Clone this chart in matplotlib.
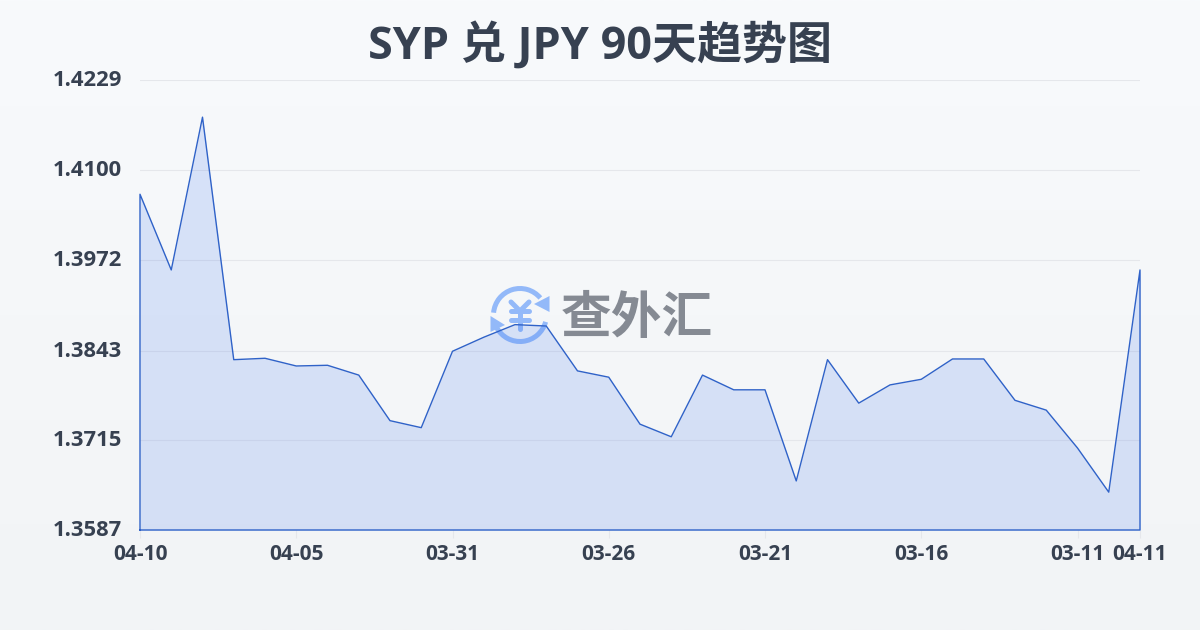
import matplotlib

matplotlib.use("Agg")

import matplotlib.pyplot as plt
import numpy as np
from matplotlib.patches import Arc, Polygon
from matplotlib.transforms import ScaledTranslation

plt.rcParams["font.family"] = ["Open Sans", "Noto Sans CJK SC", "DejaVu Sans"]

TITLE = "SYP 兑 JPY 90天趋势图"
RATES = [
    1.4066, 1.3958, 1.4176, 1.3830, 1.3832, 1.3821, 1.3822, 1.3808, 1.3743,
    1.3733, 1.3842, 1.3862, 1.3880, 1.3878, 1.3814, 1.3805, 1.3738, 1.3720,
    1.3808, 1.3787, 1.3787, 1.3657, 1.3830, 1.3768, 1.3794, 1.3802, 1.3831,
    1.3831, 1.3772, 1.3758, 1.3704, 1.3641, 1.3958,
]
X_TICK_POS = [0, 5, 10, 15, 20, 25, 30, 32]
X_TICK_LABELS = ["04-10", "04-05", "03-31", "03-26", "03-21", "03-16", "03-11", "04-11"]
Y_TICKS = [1.3587, 1.3715, 1.3843, 1.3972, 1.4100, 1.4229]
Y_TICK_LABELS = ["1.3587", "1.3715", "1.3843", "1.3972", "1.4100", "1.4229"]

W, H = 1200, 630
TEXT_COLOR = "#374151"
LINE_COLOR = "#2f62c8"
GRID_COLOR = "#e5e7eb"
LOGO_COLOR = "#93b9f9"


def draw_logo(bg):
    cx, cy, r = 520, 315, 26.5
    # y axis is flipped on the pixel axes, so arcs run the other way round
    bg.add_patch(Arc((cx, cy), 2 * r, 2 * r, theta1=185, theta2=320, color=LOGO_COLOR, lw=3.6))
    bg.add_patch(Arc((cx, cy), 2 * r, 2 * r, theta1=15, theta2=152, color=LOGO_COLOR, lw=3.6))
    bg.add_patch(Polygon([(549.5, 296), (549.5, 312), (534, 304)], color=LOGO_COLOR, lw=0))
    bg.add_patch(Polygon([(490.5, 316), (505, 325), (490.5, 332)], color=LOGO_COLOR, lw=0))
    yen = dict(color=LOGO_COLOR, lw=3.6, solid_capstyle="round")
    bg.plot([511, 520, 529], [302, 311, 302], **yen)
    bg.plot([520, 520], [311, 329], **yen)
    bg.plot([511, 529], [311, 311], **yen)
    bg.plot([511, 529], [320, 320], **yen)
    bg.text(
        561, 318, "查外汇", fontsize=36.5, fontweight="black", color="#858a93",
        family="Noto Sans CJK SC", ha="left", va="center",
    )


def main():
    fig = plt.figure(figsize=(12, 6.3), dpi=100)

    # page background and watermark live on a full-figure pixel axes
    bg = fig.add_axes([0, 0, 1, 1], zorder=0)
    bg.set_xlim(0, W)
    bg.set_ylim(H, 0)
    bg.axis("off")
    gradient = np.linspace(0, 1, 256).reshape(-1, 1)
    top = np.array([0xf8, 0xfa, 0xfc]) / 255
    bottom = np.array([0xf2, 0xf4, 0xf6]) / 255
    colors = top + (bottom - top) * gradient[..., None]
    bg.imshow(colors, extent=[0, W, H, 0], aspect="auto", zorder=0)
    draw_logo(bg)
    bg.set_xlim(0, W)
    bg.set_ylim(H, 0)

    ax = fig.add_axes([140 / W, 1 - 530 / H, 1000 / W, 450 / H], zorder=1)
    ax.patch.set_alpha(0)
    x = np.arange(len(RATES))
    ax.set_xlim(0, len(RATES) - 1)
    ax.set_ylim(Y_TICKS[0], Y_TICKS[-1])

    ax.fill_between(x, RATES, Y_TICKS[0], color="#4a7df0", alpha=0.18, lw=0, zorder=2)
    ax.plot(
        np.r_[x[0], x, x[-1], x[0]],
        np.r_[Y_TICKS[0], RATES, Y_TICKS[0], Y_TICKS[0]],
        color=LINE_COLOR,
        lw=1.0,
        zorder=3,
        clip_on=False,
    )

    ax.set_yticks(Y_TICKS, Y_TICK_LABELS)
    ax.set_xticks(X_TICK_POS, X_TICK_LABELS)
    ax.grid(axis="y", color=GRID_COLOR, lw=0.8, zorder=1)
    ax.set_axisbelow(True)
    ax.tick_params(axis="y", length=0, pad=13, labelsize=15.8, labelcolor=TEXT_COLOR)
    ax.tick_params(axis="x", length=6, width=0.8, color=GRID_COLOR, pad=4, labelsize=15, labelcolor=TEXT_COLOR)
    for label in ax.get_xticklabels() + ax.get_yticklabels():
        label.set_fontweight("bold")
    # y labels sit about 2px above their gridlines
    nudge = ScaledTranslation(0, 2 / 100, fig.dpi_scale_trans)
    for label in ax.get_yticklabels():
        label.set_transform(label.get_transform() + nudge)
    for spine in ax.spines.values():
        spine.set_visible(False)

    fig.text(0.5, 1 - 46 / H, TITLE, fontsize=32.4, fontweight="bold", color=TEXT_COLOR, ha="center", va="center")

    fig.savefig("out.png", dpi=100)
    plt.close(fig)


if __name__ == "__main__":
    main()
